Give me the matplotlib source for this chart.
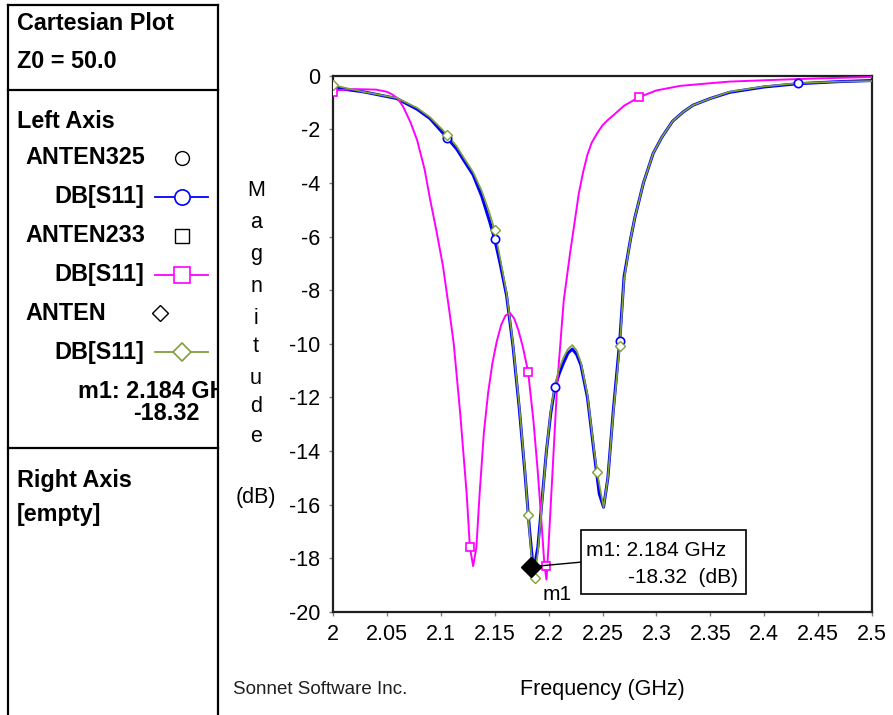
import matplotlib
matplotlib.use("Agg")
import matplotlib.pyplot as plt
from matplotlib.lines import Line2D
from matplotlib.patches import Rectangle

plt.rcParams['font.family'] = ['Liberation Sans', 'DejaVu Sans']

# ANTEN233 (magenta)
f233 = [2.000, 2.020, 2.040, 2.050, 2.055, 2.060, 2.065, 2.072, 2.078, 2.085,
        2.090, 2.096, 2.102, 2.108, 2.112, 2.118, 2.124, 2.127, 2.130, 2.133,
        2.136, 2.140, 2.144, 2.148, 2.152, 2.156, 2.160, 2.164, 2.168, 2.172,
        2.176, 2.181, 2.186, 2.190, 2.194, 2.196, 2.198, 2.200, 2.204, 2.208,
        2.214, 2.220, 2.224, 2.228, 2.232, 2.236, 2.240, 2.245, 2.250, 2.255,
        2.260, 2.270, 2.284, 2.300, 2.322, 2.350, 2.368, 2.400, 2.450, 2.500]
s233 = [-0.55, -0.50, -0.52, -0.60, -0.70, -0.85, -1.15, -1.75, -2.4, -3.5,
        -4.6, -5.8, -7.1, -8.8, -10.0, -12.6, -15.6, -17.6, -18.3, -17.6,
        -15.6, -13.3, -11.8, -10.7, -9.9, -9.3, -8.95, -8.85, -9.05, -9.5,
        -10.1, -11.05, -12.9, -14.8, -17.0, -18.2, -18.8, -17.5, -14.5, -11.5,
        -8.4, -6.6, -5.5, -4.4, -3.6, -2.95, -2.5, -2.15, -1.85, -1.65,
        -1.48, -1.12, -0.8, -0.55, -0.38, -0.28, -0.22, -0.17, -0.1, -0.05]
m233_f = [2.000, 2.127, 2.181, 2.198, 2.284]
m233_s = [-0.6, -17.6, -11.05, -18.3, -0.8]

# ANTEN325 (blue)
f325 = [2.000, 2.028, 2.059, 2.078, 2.090, 2.100, 2.106, 2.115, 2.122, 2.130,
        2.138, 2.145, 2.150, 2.155, 2.161, 2.167, 2.173, 2.178, 2.182, 2.186,
        2.190, 2.194, 2.198, 2.202, 2.206, 2.210, 2.214, 2.218, 2.222, 2.226,
        2.230, 2.236, 2.242, 2.247, 2.251, 2.255, 2.260, 2.266, 2.270, 2.276,
        2.280, 2.288, 2.297, 2.305, 2.315, 2.325, 2.334, 2.350, 2.368, 2.400,
        2.431, 2.470, 2.500]
s325 = [-0.45, -0.6, -0.85, -1.25, -1.6, -2.05, -2.32, -2.75, -3.2, -3.7,
        -4.5, -5.4, -6.1, -7.0, -8.2, -10.1, -12.5, -14.8, -16.8, -18.5,
        -17.6, -15.8, -14.0, -12.6, -11.6, -11.1, -10.7, -10.35, -10.2, -10.4,
        -10.8, -12.0, -14.0, -15.6, -16.1, -15.0, -12.5, -9.9, -7.5, -6.1,
        -5.3, -4.0, -2.9, -2.3, -1.7, -1.35, -1.1, -0.85, -0.62, -0.42,
        -0.3, -0.22, -0.18]
m325_f = [2.106, 2.150, 2.206, 2.266, 2.431]
m325_s = [-2.32, -6.1, -11.6, -9.9, -0.28]

# ANTEN (green)
fant = [2.000, 2.028, 2.059, 2.078, 2.090, 2.100, 2.106, 2.115, 2.122, 2.130,
        2.138, 2.145, 2.150, 2.155, 2.161, 2.167, 2.173, 2.178, 2.181, 2.184,
        2.187, 2.190, 2.194, 2.198, 2.202, 2.206, 2.210, 2.214, 2.218, 2.222,
        2.226, 2.230, 2.236, 2.242, 2.245, 2.251, 2.255, 2.260, 2.266, 2.270,
        2.276, 2.280, 2.288, 2.297, 2.305, 2.315, 2.325, 2.334, 2.350, 2.368,
        2.400, 2.431, 2.470, 2.500]
sant = [-0.35, -0.6, -0.83, -1.2, -1.55, -1.95, -2.2, -2.65, -3.1, -3.6,
        -4.3, -5.1, -5.77, -6.8, -8.1, -10.0, -12.4, -14.7, -16.4, -17.9,
        -18.75, -17.8, -15.9, -14.0, -12.5, -11.5, -10.9, -10.5, -10.2, -10.05,
        -10.25, -10.7, -11.9, -13.9, -14.8, -16.1, -15.0, -12.6, -10.1, -7.6,
        -6.1, -5.3, -4.0, -2.9, -2.3, -1.7, -1.35, -1.1, -0.85, -0.6,
        -0.4, -0.28, -0.22, -0.2]
mant_f = [2.000, 2.106, 2.150, 2.181, 2.187, 2.245, 2.266]
mant_s = [-0.35, -2.2, -5.77, -16.4, -18.75, -14.8, -10.1]

m1_f, m1_s = 2.184, -18.32

xticks = [2, 2.05, 2.1, 2.15, 2.2, 2.25, 2.3, 2.35, 2.4, 2.45, 2.5]
xticklabels = ['2', '2.05', '2.1', '2.15', '2.2', '2.25', '2.3', '2.35', '2.4', '2.45', '2.5']
yticks = list(range(0, -21, -2))

BLUE = '#0000ff'
MAG = '#ff00ff'
GRN = '#7ea03a'

W, H = 893, 715
fig = plt.figure(figsize=(W / 100, H / 100), dpi=100)


def fx(x):
    return x / W


def fy(y):
    return 1 - y / H


ax = fig.add_axes([fx(333), fy(611.7), 539 / W, 536 / H])
ax.plot(f325, s325, color=BLUE, lw=2.2, zorder=2)
ax.plot(f233, s233, color=MAG, lw=1.4, zorder=3)
ax.plot(fant, sant, color=GRN, lw=1.2, zorder=4)
ax.plot(m325_f, m325_s, ls='none', marker='o', ms=6, mfc='white', mec=BLUE, mew=1.2, zorder=5)
ax.plot(m233_f, m233_s, ls='none', marker='s', ms=6, mfc='white', mec=MAG, mew=1.2, zorder=5)
ax.plot(mant_f, mant_s, ls='none', marker='D', ms=5.5, mfc='white', mec=GRN, mew=1.0, zorder=6)

# marker m1
ax.plot([m1_f], [m1_s], marker='D', ms=10, color='black', zorder=7)
ax.plot([m1_f, 2.2301], [m1_s, -18.15], color='black', lw=1, zorder=7)
ax.add_patch(Rectangle((2.2301, -19.34), 0.153, 2.39, fill=True, fc='white',
                       ec='black', lw=1.2, zorder=8))
ax.text(2.2347, -17.70, 'm1: 2.184 GHz', fontsize=15, va='center', ha='left', zorder=9)
ax.text(2.3757, -18.71, '-18.32  (dB)', fontsize=15, va='center', ha='right', zorder=9)
ax.text(2.2078, -19.35, 'm1', fontsize=15, va='center', ha='center', zorder=9)

ax.set_xlim(2, 2.5)
ax.set_ylim(-20, 0)
ax.set_xticks(xticks)
ax.set_xticklabels(xticklabels)
ax.set_yticks(yticks)
ax.set_yticklabels([str(v) for v in yticks])
ax.tick_params(length=3, width=1, color='#808080', labelsize=15.5, pad=6)
for sp in ax.spines.values():
    sp.set_linewidth(1.6)
    sp.set_color('#202020')

# y label letters stacked
ylab_letters = ['M', 'a', 'g', 'n', 'i', 't', 'u', 'd', 'e']
ylab_y = [190, 222, 254, 287, 318, 347, 378, 406, 436]
for ch, yy in zip(ylab_letters, ylab_y):
    fig.text(fx(256), fy(yy), ch, fontsize=15.5, ha='center', va='center')
fig.text(fx(256), fy(497), '(dB)', fontsize=15.5, ha='center', va='center')

fig.text(fx(602), fy(690), 'Frequency (GHz)', fontsize=15.5, ha='center', va='center')
fig.text(fx(233), fy(689), 'Sonnet Software Inc.', fontsize=13.5, ha='left', va='center',
         color='#202020')

# left info panel, drawn in its own blank axes so text can be clipped at the border
pan = fig.add_axes([fx(8), 0, (218 - 8) / W, fy(5)])
pan.set_xlim(8, 218)
pan.set_ylim(715, 5)
pan.axis('off')

for (x0, y0, x1, y1) in [(8, 5, 218, 5), (8, 5, 8, 715), (218, 5, 218, 715),
                         (8, 90, 218, 90), (8, 448, 218, 448)]:
    fig.add_artist(Line2D([fx(x0), fx(x1)], [fy(y0), fy(y1)], color='black', lw=1.6))

bold = dict(fontsize=16.8, fontweight='bold', va='center')
pan.text(17, 23, 'Cartesian Plot', ha='left', **bold)
pan.text(17, 62, 'Z0 = 50.0', ha='left', **bold)
pan.text(17, 122, 'Left Axis', ha='left', **bold)

rows = [('ANTEN325', 158, 'o', BLUE, 197, 182),
        ('ANTEN233', 236, 's', MAG, 275, 182),
        ('ANTEN', 313, 'D', GRN, 352, 160)]
for name, yname, mk, col, yline, xsym in rows:
    pan.text(25, yname, name, ha='left', **bold)
    ms = 10 if mk != 'D' else 8
    pan.plot([xsym], [yname], marker=mk, ms=ms, mfc='white', mec='black', mew=1, ls='none')
    pan.text(144, yline, 'DB[S11]', ha='right', **bold)
    pan.plot([155, 208], [yline, yline], color=col, lw=1.3)
    pan.plot([182], [yline], marker=mk, ms=ms + 1, mfc='white', mec=col, mew=1.2, ls='none')

pan.text(78, 391, 'm1: 2.184 GHz', ha='left', clip_on=True, **bold)
pan.text(200, 413, '-18.32', ha='right', **bold)
pan.text(17, 480, 'Right Axis', ha='left', **bold)
pan.text(17, 515, '[empty]', ha='left', **bold)

fig.savefig('out.png', dpi=100)
